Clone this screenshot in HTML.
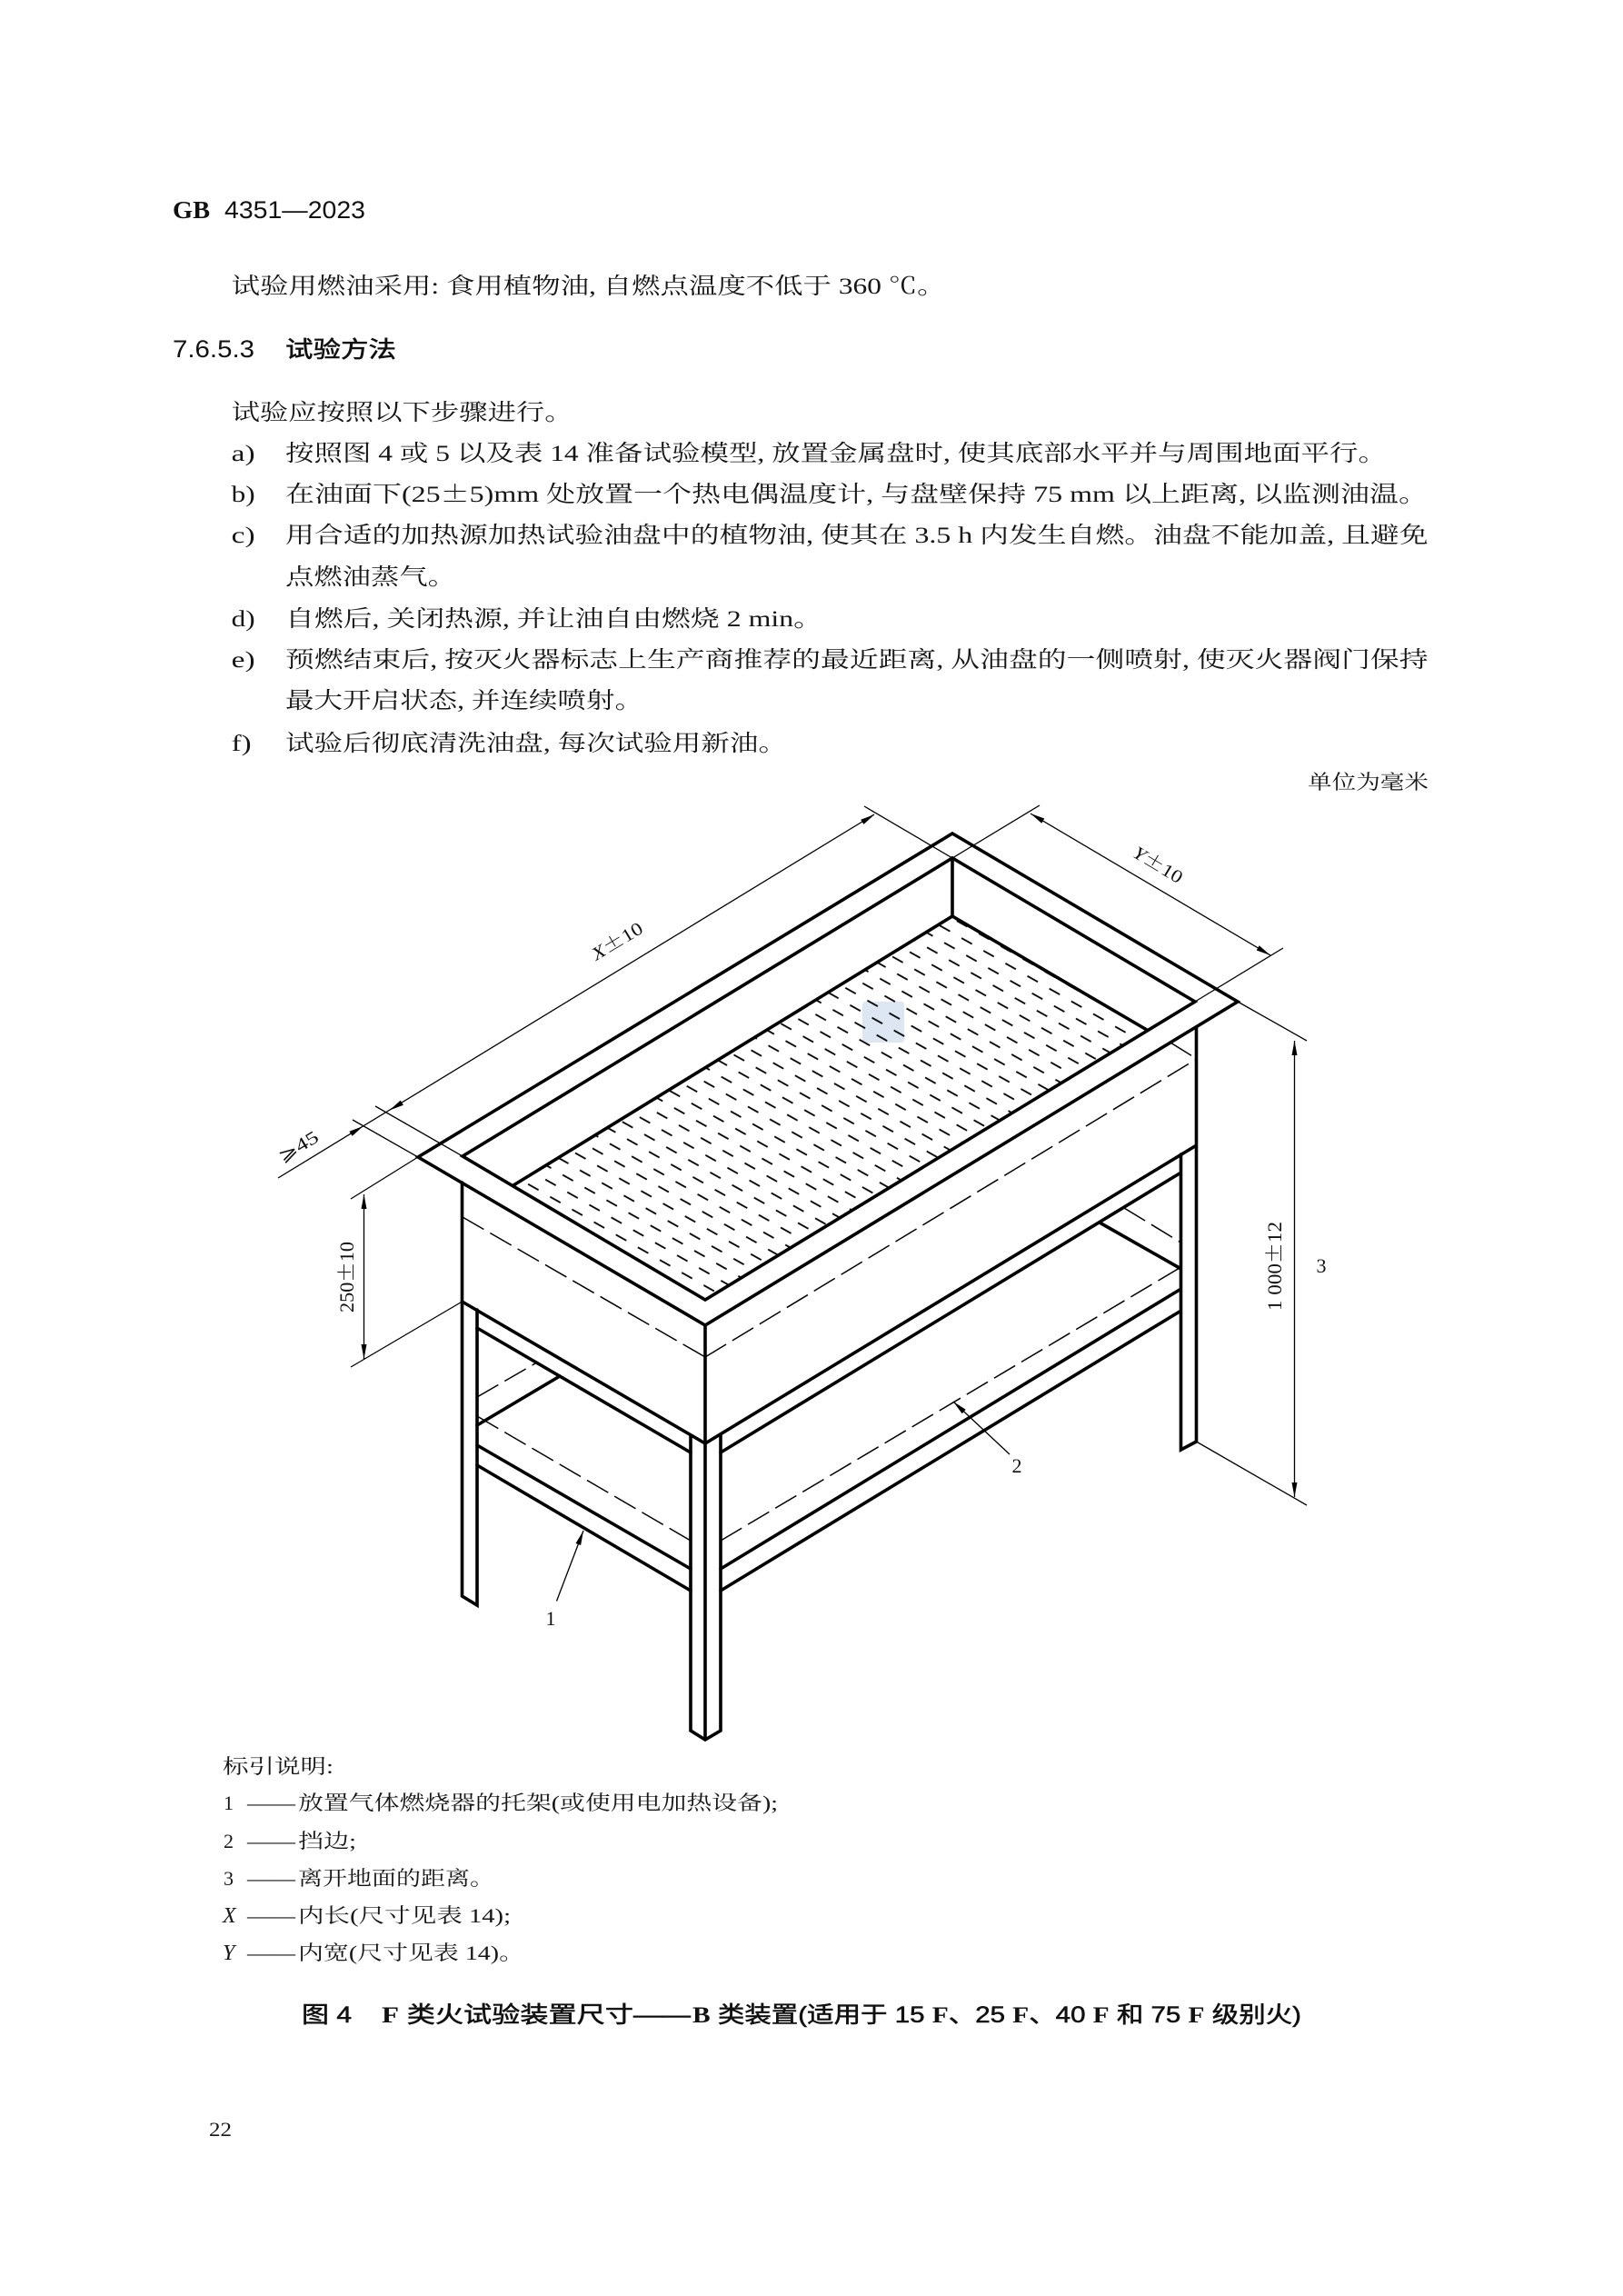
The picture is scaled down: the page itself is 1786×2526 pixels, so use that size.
<!DOCTYPE html>
<html lang="zh-CN">
<head>
<meta charset="utf-8">
<title>GB 4351—2023 图 4</title>
<style>
html,body{margin:0;padding:0;background:#fff;}
svg{display:block;}
.b{font-family:"Liberation Serif","Noto Serif CJK SC",serif;font-size:25px;fill:#161616;}
.l{font-family:"Liberation Serif","Noto Serif CJK SC",serif;font-size:22px;fill:#161616;}
.h{font-family:"Liberation Sans","Noto Sans CJK SC",sans-serif;font-size:25px;font-weight:400;fill:#111;stroke:#111;stroke-width:.55px;}
.n{font-family:"Liberation Sans","Noto Sans CJK SC",sans-serif;font-size:27px;font-weight:400;fill:#111;}
.f{font-family:"Liberation Serif",serif;font-weight:700;stroke:none;}
.d{font-family:"Liberation Serif","Noto Serif CJK SC",serif;font-size:22px;fill:#111;}
.pm{font-family:"Noto Serif CJK SC",serif;}
.k{stroke:#000;stroke-width:3.6;fill:none;stroke-linecap:round;stroke-linejoin:miter;}
.t{stroke:#000;stroke-width:1.3;fill:none;}
.s{stroke:#000;stroke-width:1.5;fill:none;stroke-dasharray:27 8;}
</style>
</head>
<body>
<svg xmlns="http://www.w3.org/2000/svg" width="1786" height="2526" viewBox="0 0 1786 2526">
<defs>
<pattern id="p" patternUnits="userSpaceOnUse" width="20" height="20" patternTransform="matrix(0.95,-0.255,0.2575,0.95,923.92,1083.05)">
<line x1="5.2" y1="5.3" x2="14.8" y2="14.7" stroke="#000" stroke-width="1.8"/>
</pattern>
</defs>
<rect width="1786" height="2526" fill="#fff"/>

<!-- body text -->
<text class="n f" x="190" y="240" textLength="41" lengthAdjust="spacingAndGlyphs">GB</text>
<text class="n" x="247" y="240" textLength="155" lengthAdjust="spacingAndGlyphs">4351—2023</text>
<text class="b" x="254.6" y="323" textLength="786" lengthAdjust="spacingAndGlyphs">试验用燃油采用: 食用植物油, 自燃点温度不低于 360 ℃。</text>
<text class="n" x="190" y="393" textLength="90" lengthAdjust="spacingAndGlyphs">7.6.5.3</text>
<text class="h" x="314" y="393" textLength="122" lengthAdjust="spacingAndGlyphs">试验方法</text>
<text class="b" x="254.6" y="462" textLength="376" lengthAdjust="spacingAndGlyphs">试验应按照以下步骤进行。</text>

<text class="b" x="254.6" y="507" textLength="26" lengthAdjust="spacingAndGlyphs">a)</text>
<text class="b" x="314" y="507" textLength="1212" lengthAdjust="spacingAndGlyphs">按照图 4 或 5 以及表 14 准备试验模型, 放置金属盘时, 使其底部水平并与周围地面平行。</text>
<text class="b" x="254.6" y="552" textLength="26" lengthAdjust="spacingAndGlyphs">b)</text>
<text class="b" x="314" y="552" textLength="1257" lengthAdjust="spacingAndGlyphs">在油面下(25<tspan class="pm">±</tspan>5)mm 处放置一个热电偶温度计, 与盘壁保持 75 mm 以上距离, 以监测油温。</text>
<text class="b" x="254.6" y="597" textLength="26" lengthAdjust="spacingAndGlyphs">c)</text>
<text class="b" x="314" y="597" textLength="1257.6" lengthAdjust="spacingAndGlyphs">用合适的加热源加热试验油盘中的植物油, 使其在 3.5 h 内发生自燃。油盘不能加盖, 且避免</text>
<text class="b" x="314" y="643" textLength="188" lengthAdjust="spacingAndGlyphs">点燃油蒸气。</text>
<text class="b" x="254.6" y="689" textLength="26" lengthAdjust="spacingAndGlyphs">d)</text>
<text class="b" x="314" y="689" textLength="591" lengthAdjust="spacingAndGlyphs">自燃后, 关闭热源, 并让油自由燃烧 2 min。</text>
<text class="b" x="254.6" y="734" textLength="26" lengthAdjust="spacingAndGlyphs">e)</text>
<text class="b" x="314" y="734" textLength="1257.6" lengthAdjust="spacingAndGlyphs">预燃结束后, 按灭火器标志上生产商推荐的最近距离, 从油盘的一侧喷射, 使灭火器阀门保持</text>
<text class="b" x="314" y="779" textLength="394" lengthAdjust="spacingAndGlyphs">最大开启状态, 并连续喷射。</text>
<text class="b" x="254.6" y="826" textLength="22" lengthAdjust="spacingAndGlyphs">f)</text>
<text class="b" x="314" y="826" textLength="552" lengthAdjust="spacingAndGlyphs">试验后彻底清洗油盘, 每次试验用新油。</text>
<text class="l" x="1439" y="868" textLength="133" lengthAdjust="spacingAndGlyphs">单位为毫米</text>

<!-- floor -->
<rect x="949" y="1102" width="46" height="45" rx="3" fill="#dce7f3"/>
<polygon points="565,1304 1048,1008 1262,1133 776,1430" fill="url(#p)"/>

<!-- rim -->
<polygon class="k" points="460,1273 1048,917 1362,1102 776,1458"/>
<polygon class="k" points="509,1272 1048,944 1315,1102 776,1430"/>
<path class="k" d="M1048 944V1008M565 1304L1048 1008L1262 1133"/>

<!-- box and legs -->
<path class="k" d="M508.5 1301V1756L525 1766V1441"/>
<path class="k" d="M776 1458V1914M760 1579V1904L776 1914L793 1904V1579"/>
<path class="k" d="M1316.5 1131V1586L1299.5 1595V1270"/>
<path class="k" d="M508.5 1432L776 1588L1315 1261"/>
<path class="k" d="M525 1461L760 1598M793 1598L1298 1291"/>
<path class="k" d="M525 1590L760 1726M525 1612L760 1750"/>
<path class="k" d="M793 1726L1298 1419M793 1750L1298 1443"/>
<path class="k" d="M525 1568L616 1514M1210 1345L1298 1395"/>

<!-- dashed -->
<path class="s" d="M509 1339L776 1493"/>
<path class="s" d="M776 1493L1317 1165"/>
<path class="s" d="M1288 1147L1317 1165"/>
<path class="s" d="M525 1537L589 1500"/>
<path class="s" d="M525 1558L760 1695"/>
<path class="s" d="M793 1695L1298 1395"/>
<path class="s" d="M1237 1329L1299.5 1367"/>

<!-- dimensions -->
<path class="t" d="M306 1296L962 896"/>
<path class="t" d="M413 1217L509 1272M388 1232L460 1273"/>
<path class="t" d="M951 887L1048 944L1144 886"/>
<path class="t" d="M1134 895L1398 1051M1412 1043L1315 1102"/>
<path class="t" d="M386 1319L460 1273M386 1504L508.5 1432M400.5 1314V1495"/>
<path class="t" d="M1362 1102L1438 1145M1316.5 1586L1438 1656M1424.5 1145V1647"/>
<path class="t" d="M612.5 1761.5L642 1684M1111 1600L1049 1542"/>
<g fill="#000">
<polygon points="399.6,1239 387.6,1249.9 384.4,1244.7"/>
<polygon points="428.6,1221.5 443.9,1215.8 440.7,1210.6"/>
<polygon points="962.5,896 950.4,906.9 947.2,901.7"/>
<polygon points="1134,895 1149.3,900.5 1146.3,905.7"/>
<polygon points="1398,1051 1385.7,1040.3 1382.7,1045.5"/>
<polygon points="400.5,1314 397.5,1330 403.5,1330"/>
<polygon points="400.5,1495 397.5,1479 403.5,1479"/>
<polygon points="1424.5,1145 1421.5,1161 1427.5,1161"/>
<polygon points="1424.5,1647 1421.5,1631 1427.5,1631"/>
<polygon points="642,1684 639.1,1700 633.5,1698"/>
<polygon points="1049,1542 1062.7,1550.8 1058.7,1555.2"/>
</g>

<!-- dimension labels -->
<text class="d" transform="translate(683,1042) rotate(-31)" x="-31" y="-1" textLength="62" lengthAdjust="spacingAndGlyphs" style="font-size:20px"><tspan font-style="italic">X</tspan><tspan class="pm">±</tspan>10</text>
<text class="d" transform="translate(1274,952) rotate(31)" x="-30" y="6" textLength="60" lengthAdjust="spacingAndGlyphs" style="font-size:20px"><tspan font-style="italic">Y</tspan><tspan class="pm">±</tspan>10</text>
<text class="d" transform="translate(328,1261) rotate(-31)" x="-24" y="7" textLength="48" lengthAdjust="spacingAndGlyphs" style="font-size:20px">⩾45</text>
<text class="d" transform="translate(381,1405) rotate(-90)" x="-39" y="8" textLength="78" lengthAdjust="spacingAndGlyphs">250<tspan class="pm">±</tspan>10</text>
<text class="d" transform="translate(1402,1393) rotate(-90)" x="-49" y="8" textLength="98" lengthAdjust="spacingAndGlyphs">1 000<tspan class="pm">±</tspan>12</text>
<text class="d" x="606" y="1788" text-anchor="middle">1</text>
<text class="d" x="1119" y="1620" text-anchor="middle">2</text>
<text class="d" x="1454" y="1400" text-anchor="middle">3</text>

<!-- legend -->
<text class="l" x="245" y="1951" textLength="122" lengthAdjust="spacingAndGlyphs">标引说明:</text>
<text class="l" x="246" y="1991">1</text>
<text class="l" x="272" y="1991" textLength="53" lengthAdjust="spacingAndGlyphs">——</text>
<text class="l" x="328" y="1991" textLength="528" lengthAdjust="spacingAndGlyphs">放置气体燃烧器的托架(或使用电加热设备);</text>
<text class="l" x="246" y="2033">2</text>
<text class="l" x="272" y="2033" textLength="53" lengthAdjust="spacingAndGlyphs">——</text>
<text class="l" x="328" y="2033" textLength="64" lengthAdjust="spacingAndGlyphs">挡边;</text>
<text class="l" x="246" y="2074">3</text>
<text class="l" x="272" y="2074" textLength="53" lengthAdjust="spacingAndGlyphs">——</text>
<text class="l" x="328" y="2074" textLength="216" lengthAdjust="spacingAndGlyphs">离开地面的距离。</text>
<text class="l" x="245" y="2115" font-style="italic" style="font-size:24px">X</text>
<text class="l" x="272" y="2115" textLength="53" lengthAdjust="spacingAndGlyphs">——</text>
<text class="l" x="328" y="2115" textLength="234" lengthAdjust="spacingAndGlyphs">内长(尺寸见表 14);</text>
<text class="l" x="245" y="2156" font-style="italic" style="font-size:24px">Y</text>
<text class="l" x="272" y="2156" textLength="53" lengthAdjust="spacingAndGlyphs">——</text>
<text class="l" x="328" y="2156" textLength="249" lengthAdjust="spacingAndGlyphs">内宽(尺寸见表 14)。</text>

<!-- caption -->
<text class="h" x="332" y="2225" textLength="55" lengthAdjust="spacingAndGlyphs">图 4</text>
<text class="h" x="420" y="2225" textLength="277" lengthAdjust="spacingAndGlyphs"><tspan class="f">F</tspan> 类火试验装置尺寸</text>
<text class="h" x="697" y="2225" textLength="63" lengthAdjust="spacingAndGlyphs">——</text>
<text class="h" x="762" y="2225" textLength="670" lengthAdjust="spacingAndGlyphs"><tspan class="f">B</tspan> 类装置(适用于 15 <tspan class="f">F</tspan>、25 <tspan class="f">F</tspan>、40 <tspan class="f">F</tspan> 和 75 <tspan class="f">F</tspan> 级别火)</text>

<text class="l" x="230" y="2350" textLength="25" lengthAdjust="spacingAndGlyphs">22</text>
</svg>
</body>
</html>
